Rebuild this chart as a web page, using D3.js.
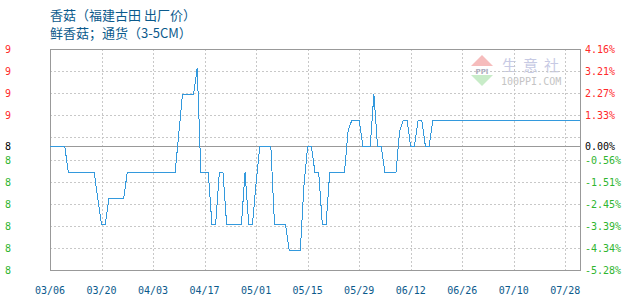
<!doctype html>
<html lang="zh">
<head>
<meta charset="utf-8">
<title>香菇</title>
<script src="https://d3js.org/d3.v7.min.js"></script>
<style>
  body { margin: 0; background: #fff; }
  svg text.num { font-family: "DejaVu Sans Mono", "Liberation Mono", monospace; font-size: 10px; }
  svg text.cjk { font-family: "Noto Sans CJK SC", sans-serif; font-size: 13px; fill: #0b5a8c; }
</style>
</head>
<body>
<div id="chart"></div>
<script>
// daily price, 03/06 onwards (one point per trading day)
var prices = [
  8.97,8.97,8.97,8.97,8.97,8.87,8.87,8.87,8.87,8.87,
  8.87,8.87,8.87,8.77,8.67,8.67,8.77,8.77,8.77,8.77,
  8.77,8.87,8.87,8.87,8.87,8.87,8.87,8.87,8.87,8.87,
  8.87,8.87,8.87,8.87,8.87,9.02,9.17,9.17,9.17,9.17,
  9.27,8.87,8.87,8.87,8.67,8.67,8.87,8.87,8.67,8.67,
  8.67,8.67,8.67,8.87,8.67,8.67,8.83,8.97,8.97,8.97,
  8.97,8.67,8.67,8.67,8.67,8.57,8.57,8.57,8.57,8.82,
  8.97,8.97,8.87,8.87,8.67,8.67,8.87,8.87,8.87,8.87,
  8.87,9.03,9.07,9.07,9.07,8.97,8.97,8.97,9.17,8.97,
  8.97,8.87,8.87,8.87,8.87,9.03,9.07,9.07,8.97,8.97,
  9.07,9.07,8.97,8.97,9.07,9.07,9.07,9.07,9.07,9.07,
  9.07,9.07,9.07,9.07,9.07,9.07,9.07,9.07,9.07,9.07,
  9.07,9.07,9.07,9.07,9.07,9.07,9.07,9.07,9.07,9.07,
  9.07,9.07,9.07,9.07,9.07,9.07,9.07,9.07,9.07,9.07,
  9.07,9.07,9.07,9.07,9.07
];
var basePrice = 8.97;

var xTickLabels = ["03/06","03/20","04/03","04/17","05/01","05/15","05/29","06/12","06/26","07/10","07/28"];
var xTickStep = 14;

var rightLabels = ["4.16%","3.21%","2.27%","1.33%","0.00%","-0.56%","-1.51%","-2.45%","-3.39%","-4.34%","-5.28%"];
var leftLabels  = ["9","9","9","9","8","8","8","8","8","8","8"];

var titleLines = ["香菇（福建古田 出厂价）", "鲜香菇；通货（3-5CM）"];

(function() {
  var width = 630, height = 300;
  var plotL = 50, plotR = 580, plotT = 49, plotB = 270;

  var svg = d3.select("#chart").append("svg")
      .attr("width", width)
      .attr("height", height);

  var pctMax = parseFloat(rightLabels[0]),
      pctMin = parseFloat(rightLabels[rightLabels.length - 1]);

  var x = d3.scaleLinear().domain([0, prices.length - 1]).range([plotL, plotR]);
  var y = d3.scaleLinear().domain([pctMin, pctMax]).range([plotB, plotT]);

  function px(v) { return Math.round(v) + 0.5; }
  function colorOf(v) { return v > 0 ? "#ff2a2a" : (v < 0 ? "#2fb52f" : "#000"); }

  // watermark
  var wm = svg.append("g").attr("class", "watermark");
  wm.append("path").attr("d", "M471,66 L482,55 L493,66 Z").attr("fill", "#f6bcbc");
  wm.append("text").attr("x", 482).attr("y", 73.5).attr("text-anchor", "middle")
    .attr("font-family", "DejaVu Sans").attr("font-size", 7).attr("font-weight", "bold")
    .attr("fill", "#aab").text("PPI");
  wm.append("path").attr("d", "M471,75 L493,75 L482,86 Z").attr("fill", "#c8ecc8");
  wm.append("text").attr("x", 502).attr("y", 71)
    .attr("font-family", "Noto Sans CJK SC").attr("font-size", 15).attr("letter-spacing", 6)
    .attr("fill", "#c7cae4").text("生意社");
  wm.append("text").attr("x", 501).attr("y", 85)
    .attr("font-family", "DejaVu Sans Mono").attr("font-size", 10)
    .attr("fill", "#c4c4c4").text("100PPI.COM");

  // horizontal grid
  var gridVals = d3.range(1, 10).map(function(k) { return pctMax - k * (pctMax - pctMin) / 10; });
  svg.append("g").selectAll("line").data(gridVals).enter().append("line")
    .attr("x1", plotL).attr("x2", plotR)
    .attr("y1", function(d) { return px(y(d)); })
    .attr("y2", function(d) { return px(y(d)); })
    .attr("stroke", "#c8c8c8").attr("stroke-dasharray", "2,2");

  // vertical grid
  var tickIdx = xTickLabels.map(function(d, i) { return i * xTickStep; });
  svg.append("g").selectAll("line").data(tickIdx.slice(1)).enter().append("line")
    .attr("x1", function(d) { return px(x(d)); })
    .attr("x2", function(d) { return px(x(d)); })
    .attr("y1", plotT).attr("y2", plotB)
    .attr("stroke", "#c8c8c8").attr("stroke-dasharray", "2,2");

  // frame + zero line
  svg.append("rect")
    .attr("x", plotL + 0.5).attr("y", plotT + 0.5)
    .attr("width", plotR - plotL).attr("height", plotB - plotT)
    .attr("fill", "none").attr("stroke", "#999");
  svg.append("line")
    .attr("x1", plotL).attr("x2", plotR)
    .attr("y1", px(y(0))).attr("y2", px(y(0)))
    .attr("stroke", "#999");

  // price line
  var line = d3.line()
    .x(function(d, i) { return x(i); })
    .y(function(d) { return y((d / basePrice - 1) * 100); });

  svg.append("path")
    .datum(prices)
    .attr("d", line)
    .attr("fill", "none")
    .attr("stroke", "#3399dd")
    .attr("stroke-width", 1)
    .attr("shape-rendering", "crispEdges");

  // right axis labels
  svg.append("g").selectAll("text").data(rightLabels).enter().append("text")
    .attr("class", "num")
    .attr("x", 585)
    .attr("y", function(d) { return y(parseFloat(d)) + 4; })
    .attr("fill", function(d) { return colorOf(parseFloat(d)); })
    .text(function(d) { return d; });

  // left axis labels
  svg.append("g").selectAll("text").data(leftLabels).enter().append("text")
    .attr("class", "num")
    .attr("x", 5)
    .attr("y", function(d, i) { return y(parseFloat(rightLabels[i])) + 4; })
    .attr("fill", function(d, i) { return colorOf(parseFloat(rightLabels[i])); })
    .text(function(d) { return d; });

  // x axis labels
  svg.append("g").selectAll("text").data(xTickLabels).enter().append("text")
    .attr("class", "num")
    .attr("x", function(d, i) { return x(tickIdx[i]); })
    .attr("y", 294)
    .attr("text-anchor", "middle")
    .attr("fill", "#0b5a8c")
    .text(function(d) { return d; });

  // title
  svg.append("g").selectAll("text").data(titleLines).enter().append("text")
    .attr("class", "cjk")
    .attr("x", 50)
    .attr("y", function(d, i) { return 20 + i * 18; })
    .text(function(d) { return d; });
})();
</script>
</body>
</html>
